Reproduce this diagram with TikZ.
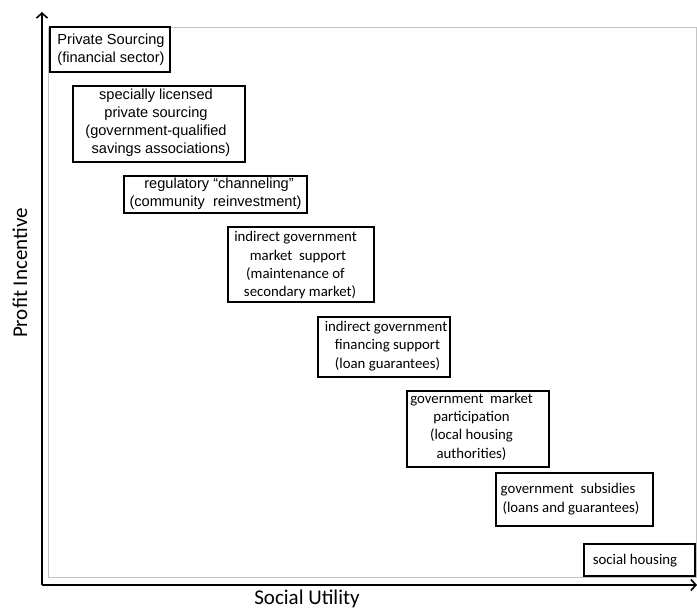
\documentclass[tikz,border=0pt]{standalone}
\usepackage{fontspec}
\newfontfamily\arialf{Liberation Sans}
\newfontfamily\calf{Carlito}
\usetikzlibrary{arrows.meta}
\definecolor{framegray}{HTML}{C4C4C4}
\begin{document}
\begin{tikzpicture}[x=1pt,y=-1pt,
  box/.style={draw=black, line width=2.6pt, fill=white, inner sep=0pt},
  tA/.style={font=\arialf\fontsize{14.6}{18}\selectfont, align=center, inner sep=0pt},
  tC/.style={font=\calf\fontsize{14.8}{18.3}\selectfont, align=center, inner sep=0pt},
  axis/.style={line width=2pt, -{Straight Barb[length=5pt,width=11pt,line width=1.6pt]}},
  axlabel/.style={font=\calf\fontsize{21}{24}\selectfont, inner sep=0pt}]
\useasboundingbox (0,0) rectangle (697,609);
% light frame
\draw[framegray, line width=1pt] (48,28) rectangle (696,578);
% axes
\coordinate (O) at (42,585);
\coordinate (ytop) at (42,12);
\coordinate (xend) at (697,585);
\draw[axis] (O) -- (ytop);
\draw[axis] (O) -- (xend);
\node[axlabel, rotate=90] (ylab) at (20,273) {Profit Incentive};
\node[axlabel] (xlab) at (307,599) {Social Utility};
% boxes
\node[box, minimum width=120pt, minimum height=45pt] (b1) at (110,49.5) {};
\node[tA] (t1) at (111,50) {Private Sourcing\\(financial sector)};
\node[box, minimum width=172pt, minimum height=76pt] (b2) at (159,124) {};
\node[tA] (t2) at (156,123) {specially licensed\\private sourcing\\(government-qualified\hspace*{8pt}\\\hspace*{10pt}savings associations)};
\node[box, minimum width=183pt, minimum height=37pt] (b3) at (215.5,194.5) {};
\node[tA] (t3) at (217,194) {\hspace*{4pt}regulatory “channeling”\\(community\ \ reinvestment)\hspace*{3pt}};
\node[box, minimum width=146pt, minimum height=75pt] (b4) at (301,264.5) {};
\node[tC] (t4) at (295.5,265.5) {indirect government\\\hspace*{5pt}market\ \ support\\(maintenance of\hspace*{15pt}\\\hspace*{9pt}secondary market)};
\node[box, minimum width=132pt, minimum height=60pt] (b5) at (384,347) {};
\node[tC] (t5) at (386,346) {indirect government\\\hspace*{3pt}financing support\\\hspace*{3pt}(loan guarantees)};
\node[box, minimum width=142pt, minimum height=76pt] (b6) at (478,429) {};
\node[tC] (t6) at (471.5,426.5) {government\ \ market\\participation\\(local housing\hspace*{5pt}\\authorities)};
\node[box, minimum width=157pt, minimum height=53pt] (b7) at (574.5,499.5) {};
\node[tC] (t7) at (571,499) {government\ \ subsidies\hspace*{6pt}\\(loans and guarantees)};
\node[box, minimum width=111pt, minimum height=32pt] (b8) at (639.5,560) {};
\node[tC] (t8) at (635,561) {social housing};
\end{tikzpicture}
\end{document}
